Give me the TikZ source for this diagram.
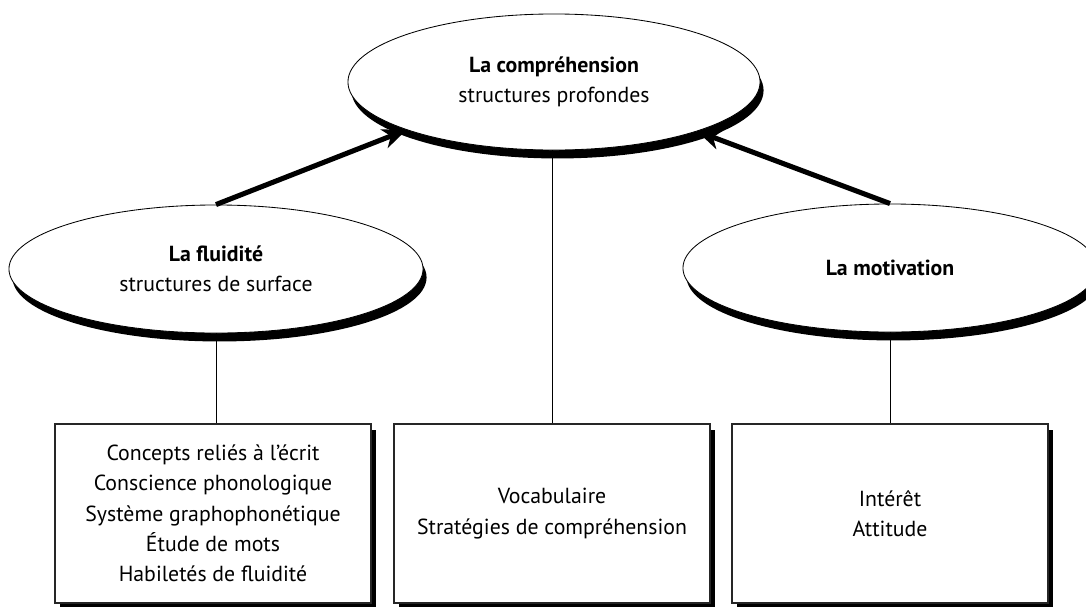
\documentclass[tikz,border=0pt]{standalone}
\usepackage{fontspec}
\setmainfont{PT Sans}
\usetikzlibrary{shapes.geometric,shadows,arrows.meta}

\begin{document}
\begin{tikzpicture}[
            x = 0.025cm, y = -0.025cm, % one unit per pixel, y downwards
            > = {Stealth[length=17pt, width=14pt, inset=5pt]}, % arrow head style
            font = \fontsize{15.5}{21.5}\selectfont,
        ]

        \tikzstyle{oval}=[
            ellipse,
            draw = black,
            line width = 0.6pt,
            fill = white,
            align = center,
            drop shadow = {shadow xshift=2.5pt, shadow yshift=-6pt, fill=black, opacity=1}
        ]
        \tikzstyle{list}=[
            rectangle,
            draw = black!85,
            line width = 0.8pt,
            fill = white,
            align = center,
            minimum width = 7.9cm,
            minimum height = 4.475cm,
            drop shadow = {shadow xshift=3.5pt, shadow yshift=-4.3pt, fill=black, opacity=1}
        ]

  \clip (0,0) rectangle (1086,606);

  % ovals
  \node[oval, minimum width=10.3cm, minimum height=3.4cm] (n1) at (554,82)
    {\textbf{La compréhension}\\structures profondes};
  \node[oval, minimum width=10.35cm, minimum height=3.2cm] (n2) at (216,269)
    {\textbf{La fluidité}\\structures de surface};
  \node[oval, minimum width=10.35cm, minimum height=3.2cm] (n3) at (890,268)
    {\textbf{La motivation}};

  % boxes
  \node[list] (b1) at (213,513.5)
    {Concepts reliés à l’écrit\\Conscience phonologique\\Système graphophonétique\\Étude de mots\\Habiletés de fluidité};
  \node[list] (b2) at (552,513.5) {Vocabulaire\\Stratégies de compréhension};
  \node[list] (b3) at (890,513.5) {Intérêt\\Attitude};

  \draw[line width=0.6pt] (n2.south) -- (n2.south |- b1.north);
  \draw[line width=0.6pt] (n1.south -| b2.north) -- (b2.north);
  \draw[line width=0.6pt] (n3.south) -- (b3.north);

  \draw[->, line width=3.6pt] (n2.north) -- (n1.198);
  \draw[->, line width=3.6pt] (n3.north) -- (n1.341);

\end{tikzpicture}
\end{document}
